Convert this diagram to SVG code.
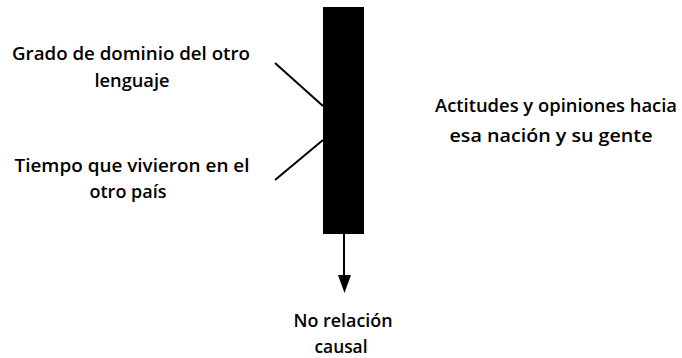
<svg xmlns="http://www.w3.org/2000/svg" width="682" height="358" viewBox="0 0 682 358">
<style>
text{font-family:"Open Sans","Liberation Sans",Arial,sans-serif;font-size:18px;font-weight:600;fill:#000;text-anchor:middle}
.ln{stroke:#000;stroke-width:2;fill:none}
</style>
<rect width="682" height="358" fill="#fff"/>
<g id="bar">
<rect x="323" y="7" width="41" height="227" fill="#000"/>
</g>
<g id="connectors">
<line class="ln" x1="275" y1="63" x2="323" y2="106"/>
<line class="ln" x1="323" y1="140" x2="275" y2="180"/>
<line class="ln" x1="344" y1="234" x2="344" y2="276"/>
<path d="M338,275 L351,275 L344.5,293 Z" fill="#000"/>
</g>
<g id="node-grado">
<text x="131" y="60" textLength="238" lengthAdjust="spacingAndGlyphs">Grado de dominio del otro</text>
<text x="132" y="87" textLength="75" lengthAdjust="spacingAndGlyphs">lenguaje</text>
</g>
<g id="node-tiempo">
<text x="132" y="172" textLength="235" lengthAdjust="spacingAndGlyphs">Tiempo que vivieron en el</text>
<text x="128" y="198" textLength="77" lengthAdjust="spacingAndGlyphs">otro país</text>
</g>
<g id="node-actitudes">
<text x="556" y="112" textLength="242" lengthAdjust="spacingAndGlyphs">Actitudes y opiniones hacia</text>
<text x="551" y="142" textLength="203" lengthAdjust="spacingAndGlyphs">esa nación y su gente</text>
</g>
<g id="node-norelacion">
<text x="343" y="327" textLength="99" lengthAdjust="spacingAndGlyphs">No relación</text>
<text x="341" y="353" textLength="53" lengthAdjust="spacingAndGlyphs">causal</text>
</g>
</svg>
